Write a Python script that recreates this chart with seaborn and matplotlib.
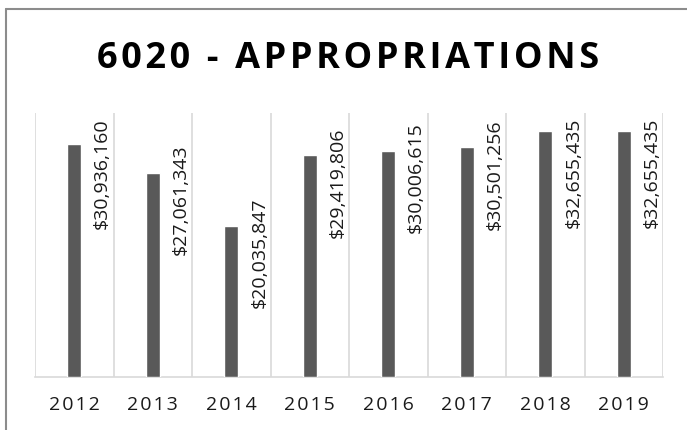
import numpy as np
import pandas as pd
import matplotlib
matplotlib.use('Agg')
import matplotlib.pyplot as plt
from matplotlib.lines import Line2D
import seaborn as sns

# chart data
years = ['2012', '2013', '2014', '2015', '2016', '2017', '2018', '2019']
appropriations = [30936160, 27061343, 20035847, 29419806, 30006615, 30501256, 32655435, 32655435]
title = '6020 - APPROPRIATIONS'

df = pd.DataFrame({'year': years, 'amount': appropriations})

sns.set_style('white')
plt.rcParams['font.family'] = ['Open Sans', 'DejaVu Sans']

fig = plt.figure(figsize=(6.87, 4.30), dpi=100)
ax = fig.add_axes([35 / 687, 1 - 377 / 430, (663 - 35) / 687, (377 - 113) / 430])

sns.barplot(data=df, x='year', y='amount', color='#595959', width=0.18,
            saturation=1, ax=ax, zorder=3)

ymax = 35000000
ax.set_ylim(0, ymax)
ax.set_xlim(-0.5, len(years) - 0.5)

# vertical gridlines between categories
ax.set_xticks(np.arange(-0.5, len(years)), minor=True)
ax.grid(which='minor', axis='x', color='#d9d9d9', linewidth=1.2, zorder=0)
ax.grid(which='major', visible=False)
ax.tick_params(which='both', length=0)
ax.set_yticks([])

for s in ['top', 'right', 'left']:
    ax.spines[s].set_visible(False)
ax.spines['bottom'].set_color('#d9d9d9')
ax.spines['bottom'].set_linewidth(1.2)

# spaced-out year labels
ax.set_xticks(range(len(years)))
ax.set_xticklabels(['\u200a'.join(y) for y in years], fontsize=14, color='#1a1a1a')
ax.tick_params(axis='x', pad=14)
ax.set_xlabel('')
ax.set_ylabel('')

# value labels, rotated, to the right of each bar
px_per_unit = (377 - 113) / ymax
cap = ymax - 5 / px_per_unit
for i, v in enumerate(appropriations):
    ytop = min(v + 28 / px_per_unit, cap)
    ax.annotate(f'${v:,.0f}', xy=(i, ytop), xytext=(28, 0), textcoords='offset pixels',
                rotation=90, ha='center', va='top', fontsize=14, color='#1a1a1a',
                annotation_clip=False)

fig.text(348.5 / 687, 1 - 68 / 430, '\u200a'.join(title), ha='center', va='baseline',
         fontsize=26, fontweight='bold', color='#000000')

# chart frame (left and top edges)
fig.add_artist(Line2D([5.5 / 687, 5.5 / 687], [0, 1 - 9 / 430], color='#8c8c8c', linewidth=1.5))
fig.add_artist(Line2D([5.5 / 687, 1], [1 - 9 / 430, 1 - 9 / 430], color='#8c8c8c', linewidth=1.5))

fig.savefig('out.png', dpi=100)
